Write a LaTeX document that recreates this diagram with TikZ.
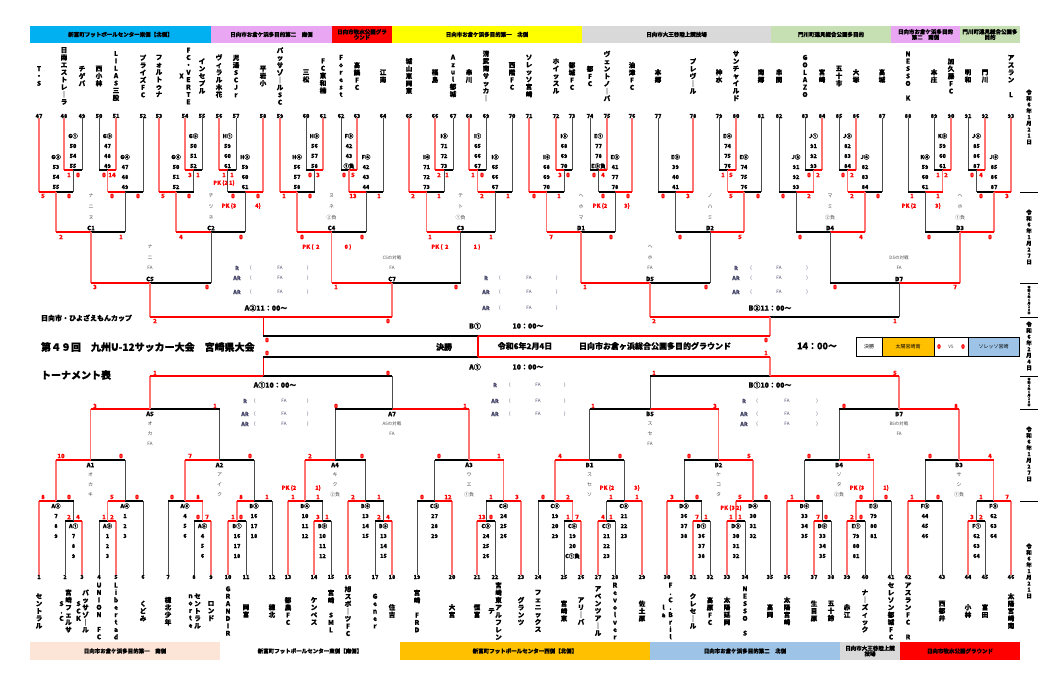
\documentclass[tikz,border=0pt]{standalone}
\usepackage{fontspec}
\setmainfont{Noto Sans CJK JP}[BoldFeatures={FakeBold=0.6}]
\definecolor{cyanH}{RGB}{0,176,240}
\definecolor{pinkH}{RGB}{233,167,243}
\definecolor{redH}{RGB}{255,0,0}
\definecolor{yellowH}{RGB}{255,255,0}
\definecolor{greyH}{RGB}{217,217,217}
\definecolor{greenH}{RGB}{198,224,180}
\definecolor{peachH}{RGB}{252,228,214}
\definecolor{orangeH}{RGB}{255,192,0}
\definecolor{blueH}{RGB}{157,195,230}
\definecolor{refc}{RGB}{70,70,105}
\newcommand\fs[1]{\fontsize{#1}{#1}\selectfont}
\makeatletter
\def\vt@end{VTEND}
\def\vtgen#1#2{\def\vt@sk{#1}\expandafter\vt@start\expandafter{#2}}
\def\vt@start#1{\vbox{\baselineskip=\vt@sk\relax\lineskiplimit=-100pt\lineskip=0pt\vt@#1\vt@end}}
\def\vt@#1{\ifx\vt@end#1\else\hbox to 1.1em{\hss#1\hss}\expandafter\vt@\fi}
\makeatother
\def\vtn#1{\vtgen{7.4pt}{#1}}
\def\vtd#1{\vtgen{6.2pt}{#1}}
\def\vtb#1{\vtgen{3.2pt}{#1}}
% match: id, left input, right input, y, centre x, left style, right style
\newcommand\mt[7]{%
  \coordinate (#1) at (#5,#4);
  \coordinate (#1l) at (#2 |- #1);
  \coordinate (#1r) at (#3 |- #1);
  \draw[v#6] (#2) -- (#1l);
  \draw[v#7] (#3) -- (#1r);
  \draw[h#6] (#1l) -- (#1);
  \draw[h#7] (#1r) -- (#1);
}
\begin{document}
\begin{tikzpicture}[x=1pt,y=-1pt,
  hw/.style={draw=red,line width=1.3pt},
  hl/.style={draw=black,line width=1.1pt},
  vw/.style={draw=red!55,line width=1.1pt},
  vl/.style={draw=black!70,line width=0.8pt},
  vr/.style={draw=red,line width=0.9pt},
  every node/.style={inner sep=0pt,outer sep=0pt},
  tnum/.style={font=\fs{5.5}\bfseries},
  tname/.style={font=\fs{6.6}\bfseries},
  scr/.style={font=\fs{6}\bfseries,text=red},
  pk/.style={font=\fs{5.5}\bfseries,text=red},
  code/.style={font=\fs{5.5}\bfseries},
  mname/.style={font=\fs{6}\bfseries},
  kana/.style={font=\fs{5},text=black!70},
  small/.style={font=\fs{4.5},text=black!70},
  refl/.style={font=\fs{5.5}\bfseries,text=refc},
  reff/.style={font=\fs{4.5},text=refc},
  bartxt/.style={font=\fs{5.5}\bfseries,align=center},
  rbox/.style={draw=black,line width=0.8pt,minimum height=19pt,font=\fs{5}},
  rline/.style={draw=black,line width=1pt},
  timet/.style={font=\fs{7}\bfseries}
]
\useasboundingbox (0,0) rectangle (1064,697);
\fill[white] (0,0) rectangle (1064,697);

% ---------- header bars ----------
\foreach \a/\b/\c/\t [count=\i] in {30/211/cyanH/新富町フットボールセンター東側【北側】,
  211/332/pinkH/日向市お倉ケ浜多目的第二　南側,
  332/392/redH/{日向市牧水公園グラ\\ウンド},
  392/582/yellowH/日向市お倉ケ浜多目的第一　北側,
  582/771/greyH/日向市大王谷陸上競技場,
  771/891/greenH/門川町遠見総合公園多目的,
  891/960/pinkH/{日向市お倉ケ浜多目的\\第二　南側},
  960/1020/greenH/{門川町遠見総合公園多\\目的}}{
  \fill[\c] (\a,26) rectangle (\b,43);
  \node[bartxt] (hb\i) at ({(\a+\b)/2},34.5) {\t};
}
\foreach \a/\b/\c/\t [count=\i] in {30/220/peachH/日向市お倉ケ浜多目的第一　南側,
  220/400/white/新富町フットボールセンター東側【南側】,
  400/650/orangeH/新富町フットボールセンター西側【北側】,
  650/840/blueH/日向市お倉ケ浜多目的第二　北側,
  840/900/greyH/{日向市大王谷陸上競\\技場},
  900/1020/redH/日向市牧水公園グラウンド}{
  \fill[\c] (\a,642) rectangle (\b,660);
  \node[bartxt] (fb\i) at ({(\a+\b)/2},651) {\t};
}

% ---------- team numbers ----------
\foreach \n/\x in {47/39,48/64,49/82,50/99,51/116,52/143,53/159,54/185,55/202,56/219,57/236,58/263,
  59/280,60/306,61/323,62/341,63/357,64/383,65/409,66/435,67/453,68/469,69/486,70/512,71/529,
  72/556,73/572,74/590,75/607,76/632,77/658,78/693,79/719,80/736,81/761,82/779,83/805,84/822,
  85/839,86/856,87/882,88/908,89/934,90/951,91/968,92/985,93/1011}
  \node[tnum] (t\n) at (\x,116) {\n};
\foreach \n/\x in {1/39,2/65,3/82,4/99,5/116,6/143,7/168,8/194,9/211,10/228,11/246,12/272,13/288,
  14/314,15/331,16/348,17/375,18/392,19/417,20/452,21/477,22/495,23/521,24/538,25/564,26/581,
  27/598,28/615,29/642,30/667,31/693,32/710,33/727,34/745,35/770,36/787,37/814,38/831,39/847,
  40/865,41/891,42/908,43/942,44/968,45/985,46/1011}
  \node[tnum] (b\n) at (\x,577) {\n};

% ---------- team names ----------
\foreach \n/\x/\nm in {47/39/T・S,48/64/日南エストレ｜ラ,49/82/チゲバ,50/99/西小林,51/116/LILAS三股,
  52/143/プライズFC,53/159/フォルトゥナ,54/188.5/FC・VERTE,55/202/インセプル,56/219/ヴィラル木花,
  57/236/児湯SCJr,58/263/平岩小,59/280/パッサゾ｜ルSC,60/306/三松,61/323/FC東和楠,62/341/Forest,
  63/357/高鍋FC,64/383/江南,65/409/城山恵岡東,66/435/福島,67/453/Azul都城,68/469/串川,
  69/486/清武南サッカ｜,70/512/西階FC,71/529/ソレッソ宮崎,72/556/ホイッスル,73/572/都城FC,
  74/590/都FC,75/607/ヴェントノ｜バ,76/632/油津FC,77/658/本郷,78/693/プレヴ｜ル,79/719/神水,
  80/736/サンチャイルド,81/761/南郷,82/779/串間,83/805/GOLAZO,84/822/宮崎,85/839/五十市,
  86/856/大塚,87/882/高城,88/908/NESSO　K,89/934/本庄,90/951/加久藤FC,91/968/明和,
  92/985/門川,93/1011/アスラン　L}
  \node[tname] (tn\n) at (\x,76) {\vtn{\nm}};
\node[tname] (tn54b) at (181.5,76) {\vtn{X}};
\foreach \n/\x/\nm in {1/39/セントラル,2/68.5/宮崎フェルサ,3/85.5/パッサゾ｜ル,4/99/UNION　FC,
  5/116/Libertad,6/143/くどみ,7/168/檍北少年,8/197.5/セントラル,9/211/ロンド,10/228/GRANDIR,
  11/246/岡富,12/272/穂北,13/288/都農FC,14/314/ケンペス,15/331/宮崎　SML,16/348/旭スポ｜ツFC,
  17/375/Gener,18/392/住吉,19/417/宮崎　FRD,20/452/大宮,21/477/恒富,22/498.5/宮崎東アルフレン,
  23/521/グランツ,24/538/フェニックス,25/564/宮崎東,26/581/アリ｜バ,27/598/アベンツア｜ル,
  28/615/Revolver,29/642/佐土原,30/670.5/F.C.Bril,31/693/クレセ｜ル,32/710/高原FC,
  33/727/太陽延岡,34/745/NESSO　S,35/770/高岡,36/787/太陽宮崎,37/814/生目原,38/831/五十鈴,
  39/847/赤江,40/865/ナ｜ズィック,41/891/セレソン都城FC,42/908/アスランFC　R,43/942/西都井,
  44/968/小林,45/985/富田,46/1011/太陽宮崎南}
  \node[tname] (bn\n) at (\x,611) {\vtn{\nm}};
\node[tname] (bn2b) at (61.5,611) {\vtn{S.C}};
\node[tname] (bn3b) at (78.5,611) {\vtn{SCK}};
\node[tname] (bn8b) at (190.5,611) {\vtn{norte}};
\node[tname] (bn22b) at (491.5,611) {\vtn{テ}};
\node[tname] (bn30b) at (663.5,611) {\vtn{la}};

% ---------- top bracket ----------
\mt{P1}{t48.south}{t49.south}{170}{73}{w}{l}
\mt{F1}{t47.south}{P1}{192}{56}{w}{l}
\mt{P2}{t50.south}{t51.south}{170}{107.5}{l}{w}
\mt{F2}{P2}{t52.south}{192}{125}{w}{l}
\mt{P3}{t54.south}{t55.south}{170}{193.5}{w}{l}
\mt{F3}{t53.south}{P3}{192}{176}{w}{l}
\mt{P4}{t56.south}{t57.south}{170}{227.5}{w}{l}
\mt{F4}{P4}{t58.south}{192}{245}{l}{w}
\mt{P5}{t60.south}{t61.south}{170}{314.5}{l}{w}
\mt{F5}{t59.south}{P5}{192}{297}{w}{l}
\mt{P6}{t62.south}{t63.south}{170}{349}{l}{w}
\mt{F6}{P6}{t64.south}{192}{366}{w}{l}
\mt{P7}{t66.south}{t67.south}{170}{444}{w}{l}
\mt{F7}{t65.south}{P7}{192}{426.5}{w}{l}
\mt{P8}{t68.south}{t69.south}{170}{477.5}{w}{l}
\mt{F8}{P8}{t70.south}{192}{495}{w}{l}
\mt{P9}{t72.south}{t73.south}{170}{564}{w}{l}
\mt{F9}{t71.south}{P9}{192}{546.5}{w}{l}
\mt{P10}{t74.south}{t75.south}{170}{598.5}{l}{w}
\mt{F10}{P10}{t76.south}{192}{615}{l}{w}
\mt{P11}{t77.south}{t78.south}{192}{675.5}{l}{w}
\mt{P12}{t79.south}{t80.south}{170}{727.5}{l}{w}
\mt{F12}{P12}{t81.south}{192}{744}{w}{l}
\mt{P13}{t83.south}{t84.south}{170}{813.5}{l}{w}
\mt{F13}{t82.south}{P13}{192}{796}{l}{w}
\mt{P14}{t85.south}{t86.south}{170}{847.5}{l}{w}
\mt{F14}{P14}{t87.south}{192}{865}{w}{l}
\mt{P15}{t89.south}{t90.south}{170}{942.5}{l}{w}
\mt{F15}{t88.south}{P15}{192}{925}{l}{w}
\mt{P16}{t91.south}{t92.south}{170}{976.5}{l}{w}
\mt{F16}{P16}{t93.south}{192}{994}{l}{w}
\mt{C1}{F1}{F2}{232}{91}{w}{l}
\mt{C2}{F3}{F4}{232}{211}{w}{l}
\mt{C4}{F5}{F6}{232}{331.5}{w}{l}
\mt{C3}{F7}{F8}{232}{460.5}{w}{l}
\mt{D1}{F9}{F10}{232}{581}{w}{l}
\mt{D2}{P11}{F12}{232}{710}{l}{w}
\mt{D4}{F13}{F14}{232}{830}{l}{w}
\mt{D3}{F15}{F16}{232}{960}{l}{w}
\mt{C5}{C1}{C2}{283}{150}{w}{l}
\mt{C7}{C4}{C3}{283}{392}{w}{l}
\mt{D5}{D1}{D2}{283}{650}{w}{l}
\mt{D7}{D4}{D3}{283}{899}{l}{w}
\mt{A2s}{C5}{C7}{317}{263}{w}{w}
\mt{B2s}{D5}{D7}{317}{770}{w}{l}

% ---------- bottom bracket ----------
\mt{Q1}{b2.north}{b3.north}{521}{73.5}{l}{w}
\mt{G1}{b1.north}{Q1}{501}{56}{w}{l}
\mt{Q2}{b4.north}{b5.north}{521}{107.5}{l}{w}
\mt{G2}{Q2}{b6.north}{501}{125}{w}{l}
\mt{Q3}{b8.north}{b9.north}{521}{202.5}{l}{w}
\mt{G3}{b7.north}{Q3}{501}{185}{l}{w}
\mt{Q4}{b10.north}{b11.north}{521}{237}{w}{l}
\mt{G4}{Q4}{b12.north}{501}{254}{w}{l}
\mt{Q5}{b14.north}{b15.north}{521}{322.5}{w}{l}
\mt{G5}{b13.north}{Q5}{501}{305}{w}{l}
\mt{Q6}{b17.north}{b18.north}{521}{383.5}{l}{w}
\mt{G6}{b16.north}{Q6}{501}{365.5}{w}{l}
\mt{Q7}{b19.north}{b20.north}{501}{434.5}{l}{w}
\mt{Q8}{b21.north}{b22.north}{521}{486}{w}{l}
\mt{G8}{Q8}{b23.north}{501}{503.5}{l}{w}
\mt{Q9}{b25.north}{b26.north}{521}{572.5}{l}{w}
\mt{G9}{b24.north}{Q9}{501}{555}{l}{w}
\mt{Q10}{b27.north}{b28.north}{521}{606.5}{w}{l}
\mt{G10}{Q10}{b29.north}{501}{624}{l}{w}
\mt{Q11}{b31.north}{b32.north}{521}{701.5}{w}{l}
\mt{G11}{b30.north}{Q11}{501}{684}{w}{l}
\mt{Q12}{b33.north}{b34.north}{521}{736}{w}{l}
\mt{G12}{Q12}{b35.north}{501}{753}{w}{l}
\mt{Q13}{b37.north}{b38.north}{521}{822.5}{w}{l}
\mt{G13}{b36.north}{Q13}{501}{804.5}{w}{l}
\mt{Q14}{b39.north}{b40.north}{521}{856}{w}{l}
\mt{G14}{Q14}{b41.north}{501}{873.5}{w}{l}
\mt{Q15}{b42.north}{b43.north}{501}{925}{w}{l}
\mt{Q16}{b44.north}{b45.north}{521}{976.5}{w}{l}
\mt{G16}{Q16}{b46.north}{501}{993.5}{l}{w}
\mt{A1}{G1}{G2}{460}{90.5}{w}{l}
\mt{A2}{G3}{G4}{460}{219.5}{w}{l}
\mt{A4}{G5}{G6}{460}{335}{w}{l}
\mt{A3}{Q7}{G8}{460}{469}{l}{w}
\mt{B1}{G9}{G10}{460}{589.5}{w}{l}
\mt{B2}{G11}{G12}{460}{718.5}{l}{w}
\mt{B4}{G13}{G14}{460}{839}{l}{w}
\mt{B3}{Q15}{G16}{460}{959}{l}{w}
\mt{A5}{A1}{A2}{409}{150}{w}{l}
\mt{A7}{A4}{A3}{409}{392}{l}{w}
\mt{B5}{B1}{B2}{409}{650}{l}{w}
\mt{B7}{B4}{B3}{409}{899}{l}{w}
\mt{A1s}{A5}{A7}{376}{263}{w}{l}
\mt{B1s}{B5}{B7}{376}{770}{l}{w}

% ---------- final ----------
\coordinate (fT1) at (263,336); \coordinate (fT2) at (478,336); \coordinate (fT3) at (770,336);
\coordinate (fB1) at (263,357); \coordinate (fB2) at (478,357); \coordinate (fB3) at (770,357);
\draw[vr] (A2s) -- (fT1); \draw[vw] (B2s) -- (fT3);
\draw[vr] (A1s) -- (fB1); \draw[vw] (B1s) -- (fB3);
\draw[hl] (fT1) -- (fT2); \draw[hw] (fT2) -- (fT3);
\draw[hl] (fB1) -- (fB2); \draw[hw] (fB2) -- (fB3);
\draw[draw=red,line width=2pt] (fT2) -- (fB2);

% ---------- scores ----------
\foreach \x/\t [count=\i] in {69/1,78/0,104/0,112/14,190/3,198/1,224/1,232/1,310/0,318/3,344/0,353/5,
  439/2,447/1,473/1,482/0,560/3,568/0,594/0,603/4,723/1,731/5,809/0,818/2,843/0,852/2,938/1,946/2,972/0,981/4}
  \node[scr] (sa\i) at (\x,175) {\t};
\foreach \x/\t [count=\i] in {43/5,69/0,112/0,138/0,163/5,189/0,233/0,258/0,284/1,310/0,353/13,379/1,
  413/2,439/1,482/2,508/1,534/0,559/1,603/0,628/0,663/0,688/3,731/5,758/0,783/0,809/2,852/2,878/0,
  912/1,938/1,981/0,1007/3}
  \node[scr] (sb\i) at (\x,196) {\t};
\foreach \x/\t [count=\i] in {61/2,121/1,181/4,241/0,302/0,362/0,430/1,491/1,551/7,611/0,680/0,740/5,
  800/0,861/4,929/0,990/0}
  \node[scr] (sc\i) at (\x,237) {\t};
\foreach \x/\t [count=\i] in {95/3,207/0,336/1,456/0,585/1,706/0,835/0,955/7}
  \node[scr] (sd\i) at (\x,287) {\t};
\foreach \x/\t [count=\i] in {155/2,388/0,654/2,895/1}
  \node[scr] (se\i) at (\x,321) {\t};
\node[scr] (sf1) at (267,340) {0}; \node[scr] (sf2) at (267,353) {0};
\node[scr] (sf3) at (766,340) {0}; \node[scr] (sf4) at (766,353) {1};
\foreach \x/\t [count=\i] in {69/2,78/4,104/1,112/2,198/0,207/7,233/1,241/0,318/3,327/1,379/2,388/4,
  482/13,491/0,568/1,577/7,603/4,611/1,697/7,706/1,731/1,740/1,818/7,826/0,852/2,861/0,972/3,981/2}
  \node[scr] (sg\i) at (\x,517) {\t};
\foreach \x/\t [count=\i] in {43/8,69/0,112/5,137/0,172/0,198/8,241/8,267/1,293/1,318/1,353/2,379/1,
  422/0,448/12,491/1,517/3,543/0,568/2,611/1,637/1,672/3,697/0,740/5,766/0,792/1,818/0,861/0,886/0,
  912/1,938/0,981/1,1007/7}
  \node[scr] (sh\i) at (\x,497) {\t};
\foreach \x/\t [count=\i] in {61/10,121/0,190/7,250/0,310/2,362/0,439/0,499/1,560/4,620/0,689/0,749/5,
  809/0,869/1,930/0,990/4}
  \node[scr] (si\i) at (\x,456) {\t};
\foreach \x/\t [count=\i] in {95/3,215/1,336/0,465/1,593/1,715/3,844/0,956/8}
  \node[scr] (sj\i) at (\x,406) {\t};
\foreach \x/\t [count=\i] in {155/1,388/0,654/1,895/5}
  \node[scr] (sk\i) at (\x,373) {\t};

% ---------- PK ----------
\foreach \x/\y/\t [count=\i] in {224/183/PK (2 1),229/206/PK (3,258/206/4),600/206/PK (2,627/206/3),
  909/206/PK (2,938/206/3),311/247/PK (\ \ 2,348/247/0 ),440/247/PK (\ \ 2,477/247/1 ),
  289/488/PK (2,318/488/1),607/488/PK (2,637/488/3),857/488/PK (3,886/488/1),731/508/PK (3 2)}
  \node[pk] (pk\i) at (\x,\y) {\t};

% ---------- group labels ----------
\foreach \x/\c/\a/\b/\d [count=\i] in {73/G①/50/54/55,107.5/G③/47/48/49,193.5/G⑤/50/51/52,
  227.5/H①/59/60/61,314.5/H③/56/57/58,349/F③/42/43/①負,444/I③/71/72/73,477.5/I①/65/66/67,
  564/I⑤/68/69/70,598.5/E①/77/78/E③負,727.5/E④/74/75/76,813.5/J①/91/92/93,847.5/J③/82/83/84,
  942.5/K③/59/60/61,976.5/J⑤/85/86/87}{
  \node[code] (lp\i) at (\x,136) {\c};
  \node[code] (lpa\i) at (\x,146) {\a};
  \node[code] (lpb\i) at (\x,156) {\b};
  \node[code] (lpc\i) at (\x,166) {\d};
}
\foreach \x/\c/\a/\b/\d [count=\i] in {56/G②/53/54/55,125/G④/47/48/49,176/G⑥/50/51/52,
  245/H②/59/60/61,297/H④/56/57/58,366/F④/42/43/44,426.5/I④/71/72/73,495/I②/65/66/67,
  546.5/I⑥/68/69/70,615/E②/41/77/78,675.5/E③/39/40/41,744/E⑤/74/75/76,796/J②/91/92/93,
  865/J④/82/83/84,925/K④/59/60/61,994/J⑥/85/86/87}{
  \node[code] (lf\i) at (\x,157) {\c};
  \node[code] (lfa\i) at (\x,167) {\a};
  \node[code] (lfb\i) at (\x,177) {\b};
  \node[code] (lfc\i) at (\x,187) {\d};
}
\foreach \x/\c/\a/\b/\d [count=\i] in {73.5/A①/7/8/9,107.5/A③/1/2/3,202.5/A⑤/4/5/6,237/B①/16/17/18,
  322.5/B③/10/11/12,383.5/B⑤/13/14/15,486/C③/24/25/26,572.5/C⑤/19/20/C①負,606.5/C⑦/21/22/23,
  701.5/D①/36/37/38,736/D③/30/31/32,822.5/D⑤/33/34/35,856/E①/79/80/81,976.5/F①/62/63/64}{
  \node[code] (lq\i) at (\x,526) {\c};
  \node[code] (lqa\i) at (\x,536) {\a};
  \node[code] (lqb\i) at (\x,546) {\b};
  \node[code] (lqc\i) at (\x,556) {\d};
}
\foreach \x/\c/\a/\b/\d [count=\i] in {56/A②/7/8/9,125/A④/1/2/3,185/A⑥/4/5/6,254/B②/16/17/18,
  305/B④/10/11/12,365.5/B⑥/13/14/15,434.5/C②/27/28/29,503.5/C④/24/25/26,555/C⑥/19/20/29,
  624/C⑧/21/22/23,684/D②/36/37/38,753/D④/30/31/32,804.5/D⑥/33/34/35,873.5/E②/79/80/81,
  925/F②/44/45/46,993.5/F③/62/63/64}{
  \node[code] (lg\i) at (\x,506) {\c};
  \node[code] (lga\i) at (\x,516) {\a};
  \node[code] (lgb\i) at (\x,526) {\b};
  \node[code] (lgc\i) at (\x,536) {\d};
}

% ---------- match names ----------
\foreach \x/\m/\a/\b/\c in {91/C1/ナ/ニ/ヌ,211/C2/チ/ツ/ネ,331.5/C4/ヌ/ネ/②負,460.5/C3/テ/ト/①負,
  581/D1/ヘ/ホ/マ,710/D2/ノ/ハ/ミ,830/D4/マ/ミ/②負,960/D3/ヘ/ホ/①負}{
  \node[mname] (lb\m) at (\x,228) {\m};
  \node[kana] (ka\m) at (\x,196) {\a};
  \node[kana] (kb\m) at (\x,207) {\b};
  \node[kana] (kc\m) at (\x,218) {\c};
}
\foreach \x/\m/\a/\b/\c in {90.5/A1/オ/カ/キ,219.5/A2/ア/イ/ク,335/A4/キ/ク/②負,469/A3/ウ/エ/①負,
  589.5/B1/ス/セ/ソ,718.5/B2/ケ/コ/タ,839/B4/ソ/タ/②負,959/B3/サ/シ/①負}{
  \node[mname] (lb\m) at (\x,465) {\m};
  \node[kana] (ka\m) at (\x,475) {\a};
  \node[kana] (kb\m) at (\x,485) {\b};
  \node[kana] (kc\m) at (\x,495) {\c};
}
\foreach \x/\m/\a/\b in {150/C5/ナ/ニ,650/D5/ヘ/ホ}{
  \node[mname] (lb\m) at (\x,279) {\m};
  \node[kana] (ka\m) at (\x,247) {\a};
  \node[kana] (kb\m) at (\x,258) {\b};
  \node[small] (kc\m) at (\x,268) {FA};
}
\foreach \x/\m/\p in {392/C7/C5,899/D7/D5}{
  \node[mname] (lb\m) at (\x,279) {\m};
  \node[small] (ka\m) at (\x,258) {\p の対戦};
  \node[small] (kb\m) at (\x,268) {FA};
}
\foreach \x/\m/\a/\b in {150/A5/オ/カ,650/B5/ス/セ}{
  \node[mname] (lb\m) at (\x,414) {\m};
  \node[kana] (ka\m) at (\x,424) {\a};
  \node[kana] (kb\m) at (\x,434) {\b};
  \node[small] (kc\m) at (\x,444) {FA};
}
\foreach \x/\m/\p in {392/A7/A5,899/B7/B5}{
  \node[mname] (lb\m) at (\x,414) {\m};
  \node[small] (ka\m) at (\x,424) {\p の対戦};
  \node[small] (kb\m) at (\x,434) {FA};
}

% ---------- referee blocks ----------
\foreach \r/\p/\f/\q/\ya/\yb/\yc [count=\i] in {237/251/280/308/268/278/292,486/500/529/557/278/292/308,
  736/751/779/807/268/278/292,245/255/284/308/401/414/424,495/510/538/565/385/401/414,
  744/757/787/817/401/414/424}{
  \foreach \y/\t [count=\j] in {\ya/R,\yb/AR,\yc/AR}{
    \node[refl] (rf\i-\j) at (\r,\y) {\t};
    \node[reff] (rp\i-\j) at (\p,\y) {(};
    \node[reff] (ra\i-\j) at (\f,\y) {FA};
    \node[reff] (rq\i-\j) at (\q,\y) {)};
  }
}

% ---------- times ----------
\node[timet] (tm1) at (266,308) {A②11：00～};
\node[timet] (tm2) at (770,308) {B②11：00～};
\node[timet] (tm3) at (275,385) {A①10：00～};
\node[timet] (tm4) at (770,385) {B①10：00～};
\node[timet] (tm5) at (475,326) {B①};
\node[timet] (tm6) at (528,326) {10：00～};
\node[timet] (tm7) at (475,367) {A①};
\node[timet] (tm8) at (528,367) {10：00～};

% ---------- titles and final info ----------
\node[font=\fs{7}\bfseries,anchor=west] (ti1) at (41,318) {日向市・ひよざえもんカップ};
\node[font=\fs{10}\bfseries,anchor=west] (ti2) at (41,347) {第４９回　九州U-12サッカー大会　宮崎県大会};
\node[font=\fs{10}\bfseries,anchor=west] (ti3) at (41,375) {トーナメント表};
\node[font=\fs{8}\bfseries] (fi1) at (444,347) {決勝};
\node[font=\fs{8}\bfseries] (fi2) at (525,346) {令和6年2月4日};
\node[font=\fs{8}\bfseries] (fi3) at (655,346) {日向市お倉ヶ浜総合公園多目的グラウンド};
\node[font=\fs{9}\bfseries] (fi4) at (817,346) {14：00～};

% ---------- result box ----------
\node[rbox,minimum width=26pt] (rs1) at (869,346.5) {決勝};
\node[rbox,fill=orangeH,minimum width=52pt] (rs2) at (908,346.5) {太陽宮崎南};
\node[rbox,minimum width=34pt] (rs3) at (951,346.5) {};
\node[scr] (rs3a) at (939,346.5) {0};
\node[font=\fs{4.5},text=black!70] (rs3b) at (951,346.5) {VS};
\node[scr] (rs3c) at (963,346.5) {0};
\node[rbox,fill=blueH,minimum width=51pt] (rs4) at (993.5,346.5) {ソレッソ宮崎};

% ---------- right column ----------
\foreach \y [count=\i] in {192,283,317,376,409,501}{
  \coordinate (rl\i a) at (1020,\y);
  \coordinate (rl\i b) at (1038,\y);
  \draw[rline] (rl\i a) -- (rl\i b);
}
\node[font=\fs{5.5}\bfseries] (dt1) at (1029,117) {\vtd{令和6年1月21日}};
\node[font=\fs{5.5}\bfseries] (dt2) at (1029,237) {\vtd{令和6年1月27日}};
\node[font=\fs{3}\bfseries] (dt3) at (1029,300) {\vtb{令和6年1月28日}};
\node[font=\fs{5.5}\bfseries] (dt4) at (1029,346) {\vtd{令和6年2月4日}};
\node[font=\fs{3}\bfseries] (dt5) at (1029,392) {\vtb{令和6年1月28日}};
\node[font=\fs{5.5}\bfseries] (dt6) at (1029,454) {\vtd{令和6年1月27日}};
\node[font=\fs{5.5}\bfseries] (dt7) at (1029,571) {\vtd{令和6年1月21日}};
\end{tikzpicture}
\end{document}
